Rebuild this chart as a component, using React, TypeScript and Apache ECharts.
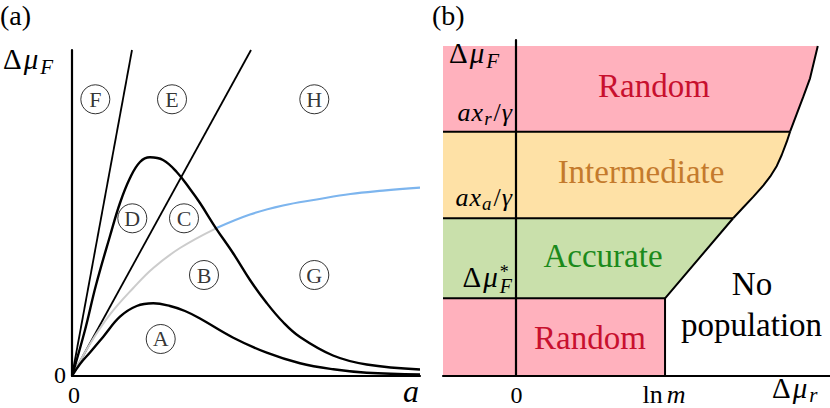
import React, { useEffect, useRef } from 'react';
import * as echarts from 'echarts';

const SERIF = 'Liberation Serif';

// ---------------- Panel (a) data (x: a, y: Δμ_F; both axes 0..10) ----------------
const aMax = 10;
const steepLine: number[][] = [[0, 0], [1.724, 10]];
const diagonalLine: number[][] = [[0, 0], [5.144, 10]];
const upperBump: number[][] = [
  [0, 0], [0.374, 1.411], [0.69, 2.791], [1.092, 4.294], [1.379, 5.307], [1.667, 6.074],
  [1.954, 6.564], [2.241, 6.709], [2.615, 6.626], [3.009, 6.258], [3.391, 5.736], [3.678, 5.307],
  [4.138, 4.531], [4.626, 3.773], [5.115, 2.945], [5.595, 2.239], [6.063, 1.656], [6.552, 1.196],
  [7.5, 0.629], [8.468, 0.353], [10, 0.199],
];
const lowerBump: number[][] = [
  [0, 0], [0.23, 0.368], [0.517, 0.721], [0.899, 1.206], [1.379, 1.819], [1.859, 2.147],
  [2.336, 2.23], [2.816, 2.147], [3.247, 1.994], [3.678, 1.764], [4.635, 1.175], [5.595, 0.715],
  [6.552, 0.39], [7.509, 0.206], [8.468, 0.101], [10, 0.046],
];
const grayCurve: number[][] = [
  [0, 0], [0.517, 0.982], [1.092, 1.887], [1.761, 2.699], [2.336, 3.313], [3.103, 3.926], [4.138, 4.531],
];
const blueCurve: number[][] = [
  [4.138, 4.531], [5.115, 4.954], [6.063, 5.23], [7.032, 5.414], [8.0, 5.583], [8.937, 5.684], [10, 5.776],
];
const letterNames = ['F', 'E', 'H', 'D', 'C', 'B', 'G', 'A'];
const letterX = [0.67, 2.874, 6.963, 1.733, 3.218, 3.793, 6.963, 2.549];
const letterY = [8.488, 8.488, 8.488, 4.837, 4.837, 3.098, 3.098, 1.135];

// ---------------- Panel (b) data (x: Δμ_r in units of ln m, y: Δμ_F in units of Δμ*_F) ----------------
const bXMin = -0.49;
const bXMax = 2.107;
const bYMax = 4.324;
const lnM = 1;
const muStarLevel = 1;
const axaLevel = 2.03;
const axrLevel = 3.144;
const topLevel = 4.247;
const boundaryStraight: number[][] = [[lnM, 0], [lnM, muStarLevel], [1.457, axaLevel]];
const boundaryLow: number[][] = [
  [1.457, 2.03], [1.526, 2.171], [1.593, 2.308], [1.66, 2.454], [1.705, 2.565], [1.75, 2.703],
  [1.783, 2.844], [1.817, 3.015], [1.839, 3.144],
];
const boundaryHigh: number[][] = [
  [1.839, 3.144], [1.884, 3.372], [1.928, 3.595], [1.973, 3.831], [2.025, 4.247],
];
const regionNames = ['Random', 'Intermediate', 'Accurate', 'Random', 'No', 'population'];

const PINK = '#ffb1bd';
const YELLOW = '#fee1a6';
const GREEN = '#c9e0ab';

type Seg = { t: string; s: number; i?: boolean; dy?: number; gap?: number; stack?: boolean };

function fontOf(size: number, italic?: boolean) {
  return `${italic ? 'italic ' : ''}${size}px "${SERIF}", serif`;
}

function mathLabel(x0: number, baseline: number, segs: Seg[], align: 'left' | 'right' | 'center', color = '#000') {
  const ctx = document.createElement('canvas').getContext('2d') as CanvasRenderingContext2D;
  let cursor = 0;
  let maxRight = 0;
  const placed: { seg: Seg; x: number }[] = [];
  segs.forEach((seg) => {
    ctx.font = fontOf(seg.s, seg.i);
    const w = ctx.measureText(seg.t).width;
    const x = cursor + (seg.gap || 0);
    placed.push({ seg, x });
    maxRight = Math.max(maxRight, x + w);
    if (!seg.stack) cursor = x + w;
  });
  const shift = align === 'right' ? -maxRight : align === 'center' ? -maxRight / 2 : 0;
  return placed.map(({ seg, x }) => ({
    type: 'text',
    silent: true,
    z: 100,
    x: x0 + shift + x,
    y: baseline + (seg.dy || 0) - 0.3375 * seg.s,
    style: {
      text: seg.t,
      font: fontOf(seg.s, seg.i),
      fill: color,
      align: 'left',
      verticalAlign: 'middle',
    },
  }));
}

function plainText(x: number, y: number, text: string, size: number, color = '#000', align = 'center') {
  return {
    type: 'text',
    silent: true,
    z: 100,
    x,
    y,
    style: { text, font: fontOf(size), fill: color, align, verticalAlign: 'middle' },
  };
}

function buildGraphics() {
  const g: any[] = [];
  g.push(plainText(0, 15, '(a)', 28, '#000', 'left'));
  g.push(plainText(432, 15, '(b)', 28, '#000', 'left'));
  // panel a labels
  g.push(...mathLabel(3, 69, [{ t: 'Δ', s: 29 }, { t: 'μ', s: 29, i: true, gap: 2 }, { t: 'F', s: 21, i: true, dy: 5, gap: 2 }], 'left'));
  g.push(plainText(60, 375, '0', 24));
  g.push(plainText(74, 395, '0', 24));
  g.push(...mathLabel(411, 402, [{ t: 'a', s: 32, i: true }], 'center'));
  // panel b labels
  g.push(...mathLabel(449, 63, [{ t: 'Δ', s: 29 }, { t: 'μ', s: 29, i: true, gap: 2 }, { t: 'F', s: 21, i: true, dy: 5, gap: 2 }], 'left'));
  g.push(...mathLabel(512, 121, [{ t: 'a', s: 26, i: true }, { t: 'x', s: 26, i: true, gap: 1 }, { t: 'r', s: 19, i: true, dy: 4, gap: 1 }, { t: '/', s: 26, gap: 2 }, { t: 'γ', s: 26, i: true, gap: 1 }], 'right'));
  g.push(...mathLabel(512, 206, [{ t: 'a', s: 26, i: true }, { t: 'x', s: 26, i: true, gap: 1 }, { t: 'a', s: 19, i: true, dy: 4, gap: 1 }, { t: '/', s: 26, gap: 2 }, { t: 'γ', s: 26, i: true, gap: 1 }], 'right'));
  g.push(...mathLabel(512, 287, [{ t: 'Δ', s: 29 }, { t: 'μ', s: 29, i: true, gap: 2 }, { t: '*', s: 18, dy: -9, gap: 2, stack: true }, { t: 'F', s: 20, i: true, dy: 6, gap: 2 }], 'right'));
  g.push(plainText(516.5, 395, '0', 24));
  g.push(...mathLabel(664, 403, [{ t: 'ln', s: 26 }, { t: 'm', s: 26, i: true, gap: 4 }], 'center'));
  g.push(...mathLabel(772, 398, [{ t: 'Δ', s: 29 }, { t: 'μ', s: 29, i: true, gap: 2 }, { t: 'r', s: 21, i: true, dy: 4, gap: 2 }], 'left'));
  // region names
  g.push(plainText(654, 86, regionNames[0], 33, '#c8102e'));
  g.push(plainText(641, 172, regionNames[1], 33, '#c47a2c'));
  g.push(plainText(603, 255.5, regionNames[2], 33, '#1b8a1b'));
  g.push(plainText(590, 337.5, regionNames[3], 33, '#c8102e'));
  g.push(plainText(752, 284, regionNames[4], 33, '#000'));
  g.push(plainText(751.5, 324.6, regionNames[5], 33, '#000'));
  return g;
}

function polygonSeries(points: number[][], color: string) {
  return {
    type: 'custom',
    xAxisIndex: 1,
    yAxisIndex: 1,
    silent: true,
    z: 1,
    data: [[0, 0]],
    renderItem: (_params: any, api: any) => ({
      type: 'polygon',
      shape: { points: points.map((p) => api.coord(p)) },
      style: { fill: color, stroke: null },
    }),
  };
}

function lineSeries(data: number[][], color: string, width: number, axis: number, smooth: number | boolean = false) {
  return {
    type: 'line',
    xAxisIndex: axis,
    yAxisIndex: axis,
    data,
    smooth,
    showSymbol: false,
    symbol: 'none',
    silent: true,
    z: 3,
    lineStyle: { color, width },
  };
}

export default function App() {
  const ref = useRef<HTMLDivElement>(null);
  useEffect(() => {
    if (!ref.current) return;
    const chart = echarts.init(ref.current, undefined, { renderer: 'svg' });

    const pinkBottom = [[bXMin, 0], [lnM, 0], [lnM, muStarLevel], [bXMin, muStarLevel]];
    const greenBand = [[bXMin, muStarLevel], [lnM, muStarLevel], [1.457, axaLevel], [bXMin, axaLevel]];
    const yellowBand = [[bXMin, axaLevel], ...boundaryLow, [bXMin, axrLevel]];
    const pinkTop = [[bXMin, axrLevel], ...boundaryHigh, [bXMin, topLevel]];

    const axisBase = (grid: number, min: number, max: number) => ({
      type: 'value',
      gridIndex: grid,
      min,
      max,
      z: 10,
      axisLine: { show: true, onZero: true, lineStyle: { color: '#000', width: 2.2 } },
      axisTick: { show: false },
      axisLabel: { show: false },
      splitLine: { show: false },
    });

    chart.setOption({
      animation: false,
      backgroundColor: '#fff',
      textStyle: { fontFamily: SERIF },
      grid: [
        { left: 72, top: 50, width: 348, height: 326 },
        { left: 443, top: 40, width: 387, height: 336 },
      ],
      xAxis: [axisBase(0, 0, aMax), axisBase(1, bXMin, bXMax)],
      yAxis: [axisBase(0, 0, aMax), axisBase(1, 0, bYMax)],
      series: [
        lineSeries(steepLine, '#000', 1.8, 0),
        lineSeries(diagonalLine, '#000', 1.8, 0),
        lineSeries(grayCurve, '#cccccc', 2, 0, 0.4),
        lineSeries(blueCurve, '#7db5ee', 2.2, 0, 0.4),
        lineSeries(upperBump, '#000', 2.4, 0, 0.4),
        lineSeries(lowerBump, '#000', 2.4, 0, 0.4),
        {
          type: 'scatter',
          xAxisIndex: 0,
          yAxisIndex: 0,
          silent: true,
          z: 5,
          symbol: 'circle',
          symbolSize: 29,
          itemStyle: { color: '#fff', borderColor: '#000', borderWidth: 1 },
          label: {
            show: true,
            position: 'inside',
            formatter: (p: any) => letterNames[p.dataIndex],
            fontFamily: SERIF,
            fontSize: 22,
            color: '#000',
          },
          data: letterX.map((x, k) => [x, letterY[k]]),
        },
        polygonSeries(pinkBottom, PINK),
        polygonSeries(greenBand, GREEN),
        polygonSeries(yellowBand, YELLOW),
        polygonSeries(pinkTop, PINK),
        lineSeries([[bXMin, muStarLevel], [lnM, muStarLevel]], '#000', 2, 1),
        lineSeries([[bXMin, axaLevel], [1.457, axaLevel]], '#000', 2, 1),
        lineSeries([[bXMin, axrLevel], [1.839, axrLevel]], '#000', 2, 1),
        lineSeries(boundaryStraight, '#000', 2, 1),
        lineSeries(boundaryLow, '#000', 2, 1),
        lineSeries(boundaryHigh, '#000', 2, 1),
      ],
      graphic: buildGraphics(),
    });
    return () => chart.dispose();
  }, []);
  return <div ref={ref} style={{ position: 'fixed', left: 0, top: 0, width: 830, height: 408 }} />;
}
